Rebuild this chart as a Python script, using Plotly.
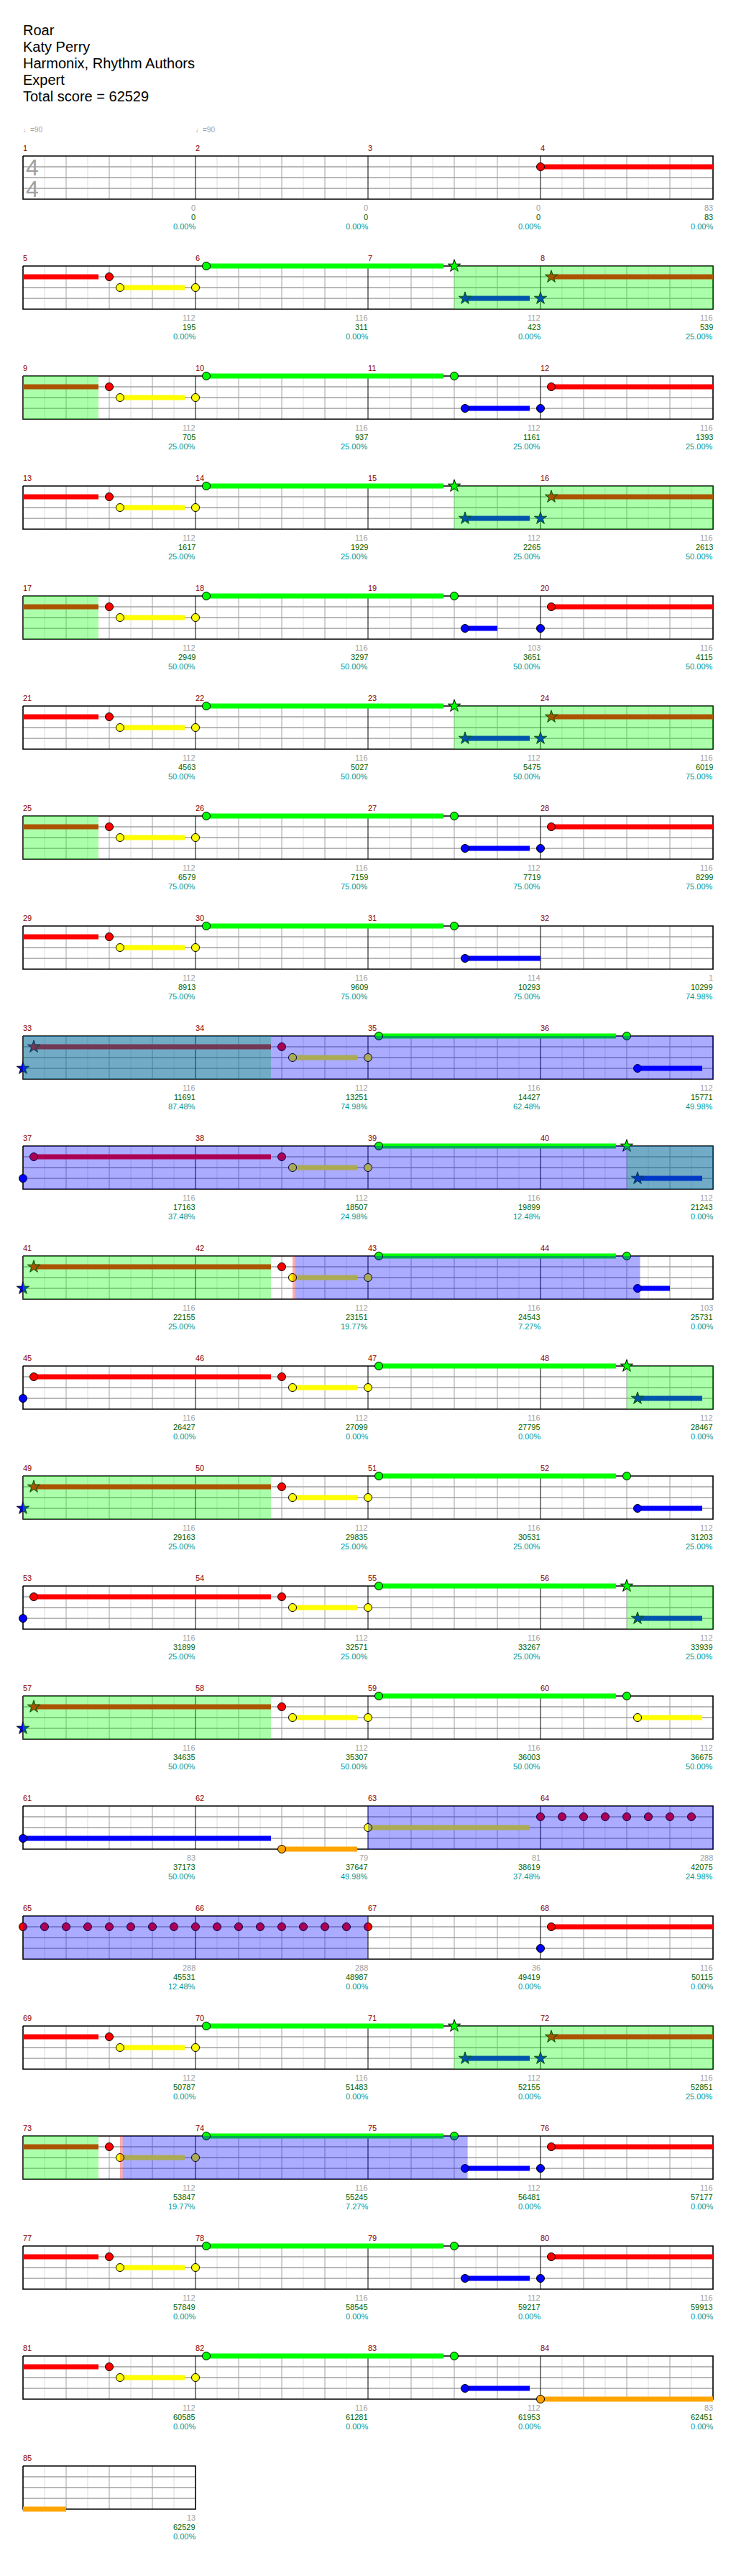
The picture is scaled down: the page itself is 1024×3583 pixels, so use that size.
import plotly.graph_objects as go

# ---------------- data ----------------
title_lines = ["Roar", "Katy Perry", "Harmonix, Rhythm Authors", "Expert", "Total score = 62529"]
tempo_measures = [1, 2]
tempo_values = [90, 90]
time_signature = ["4", "4"]
n_measures = 85

measure_notes = [0, 0, 0, 83, 112, 116, 112, 116, 112, 116, 112, 116, 112, 116, 112, 116,
                 112, 116, 103, 116, 112, 116, 112, 116, 112, 116, 112, 116, 112, 116, 114, 1,
                 116, 112, 116, 112, 116, 112, 116, 112, 116, 112, 116, 103, 116, 112, 116, 112,
                 116, 112, 116, 112, 116, 112, 116, 112, 116, 112, 116, 112, 83, 79, 81, 288,
                 288, 288, 36, 116, 112, 116, 112, 116, 112, 116, 112, 116, 112, 116, 112, 116,
                 112, 116, 112, 83, 13]
measure_scores = [0, 0, 0, 83, 195, 311, 423, 539, 705, 937, 1161, 1393, 1617, 1929, 2265, 2613,
                  2949, 3297, 3651, 4115, 4563, 5027, 5475, 6019, 6579, 7159, 7719, 8299,
                  8913, 9609, 10293, 10299, 11691, 13251, 14427, 15771, 17163, 18507, 19899, 21243,
                  22155, 23151, 24543, 25731, 26427, 27099, 27795, 28467, 29163, 29835, 30531, 31203,
                  31899, 32571, 33267, 33939, 34635, 35307, 36003, 36675, 37173, 37647, 38619, 42075,
                  45531, 48987, 49419, 50115, 50787, 51483, 52155, 52851, 53847, 55245, 56481, 57177,
                  57849, 58545, 59217, 59913, 60585, 61281, 61953, 62451, 62529]
measure_sp = [0, 0, 0, 0, 0, 0, 0, 25, 25, 25, 25, 25, 25, 25, 25, 50,
              50, 50, 50, 50, 50, 50, 50, 75, 75, 75, 75, 75, 75, 75, 75, 74.98,
              87.48, 74.98, 62.48, 49.98, 37.48, 24.98, 12.48, 0, 25, 19.77, 7.27, 0, 0, 0, 0, 0,
              25, 25, 25, 25, 25, 25, 25, 25, 50, 50, 50, 50, 50, 49.98, 37.48, 24.98,
              12.48, 0, 0, 0, 0, 0, 0, 25, 19.77, 7.27, 0, 0, 0, 0, 0, 0,
              0, 0, 0, 0, 0]

# notes: start beat (from song start), lane (0 green .. 4 orange), sustain beats, star note
note_beat = [12,
             18, 18.25, 20, 20.25, 26, 26.25, 28, 28.25,
             34, 34.25, 36, 36.25, 42, 42.25, 44, 44.25,
             50, 50.25, 52, 52.25, 58, 58.25, 60, 60.25,
             66, 66.25, 68, 68.25, 74, 74.25, 76, 76.25,
             82, 82.25, 84, 84.25, 90, 90.25, 92, 92.25,
             98, 98.25, 100, 100.25, 106, 106.25, 108, 108.25,
             114, 114.25, 116, 116.25, 122, 122.25,
             128, 128.25, 134, 134.25, 136, 136.25, 142, 142.25,
             144, 144.25, 150, 150.25, 152, 152.25, 158, 158.25,
             160, 160.25, 166, 166.25, 168, 168.25, 174, 174.25,
             176, 176.25, 182, 182.25, 184, 184.25, 190, 190.25,
             192, 192.25, 198, 198.25, 200, 200.25, 206, 206.25,
             208, 208.25, 214, 214.25, 216, 216.25, 222, 222.25,
             224, 224.25, 230, 230.25, 232, 232.25, 238, 238.25,
             240, 246, 248, 252, 252.5, 253, 253.5, 254, 254.5, 255, 255.5,
             256, 256.5, 257, 257.5, 258, 258.5, 259, 259.5, 260, 260.5, 261, 261.5,
             262, 262.5, 263, 263.5, 264, 268, 268.25,
             274, 274.25, 276, 276.25, 282, 282.25, 284, 284.25,
             290, 290.25, 292, 292.25, 298, 298.25, 300, 300.25,
             306, 306.25, 308, 308.25, 314, 314.25, 316, 316.25,
             322, 322.25, 324, 324.25, 330, 330.25, 332]
note_lane = [1,
             1, 2, 2, 0, 0, 3, 3, 1,
             1, 2, 2, 0, 0, 3, 3, 1,
             1, 2, 2, 0, 0, 3, 3, 1,
             1, 2, 2, 0, 0, 3, 3, 1,
             1, 2, 2, 0, 0, 3, 3, 1,
             1, 2, 2, 0, 0, 3, 3, 1,
             1, 2, 2, 0, 0, 3,
             3, 1, 1, 2, 2, 0, 0, 3,
             3, 1, 1, 2, 2, 0, 0, 3,
             3, 1, 1, 2, 2, 0, 0, 3,
             3, 1, 1, 2, 2, 0, 0, 3,
             3, 1, 1, 2, 2, 0, 0, 3,
             3, 1, 1, 2, 2, 0, 0, 3,
             3, 1, 1, 2, 2, 0, 0, 2,
             3, 4, 2, 1, 1, 1, 1, 1, 1, 1, 1,
             1, 1, 1, 1, 1, 1, 1, 1, 1, 1, 1, 1,
             1, 1, 1, 1, 1, 3, 1,
             1, 2, 2, 0, 0, 3, 3, 1,
             1, 2, 2, 0, 0, 3, 3, 1,
             1, 2, 2, 0, 0, 3, 3, 1,
             1, 2, 2, 0, 0, 3, 4]
note_len = [5.75,
            0, 1.5, 0, 5.5, 0, 1.5, 0, 5.5,
            0, 1.5, 0, 5.5, 0, 1.5, 0, 5.5,
            0, 1.5, 0, 5.5, 0, 1.5, 0, 5.5,
            0, 1.5, 0, 5.5, 0, 0.75, 0, 5.5,
            0, 1.5, 0, 5.5, 0, 1.5, 0, 5.5,
            0, 1.5, 0, 5.5, 0, 1.5, 0, 5.5,
            0, 1.5, 0, 5.5, 0, 1.75,
            0, 5.5, 0, 1.5, 0, 5.5, 0, 1.5,
            0, 5.5, 0, 1.5, 0, 5.5, 0, 1.5,
            0, 5.5, 0, 1.5, 0, 5.5, 0, 0.75,
            0, 5.5, 0, 1.5, 0, 5.5, 0, 1.5,
            0, 5.5, 0, 1.5, 0, 5.5, 0, 1.5,
            0, 5.5, 0, 1.5, 0, 5.5, 0, 1.5,
            0, 5.5, 0, 1.5, 0, 5.5, 0, 1.5,
            5.75, 1.75, 3.75, 0, 0, 0, 0, 0, 0, 0, 0,
            0, 0, 0, 0, 0, 0, 0, 0, 0, 0, 0, 0,
            0, 0, 0, 0, 0, 0, 5.5,
            0, 1.5, 0, 5.5, 0, 1.5, 0, 5.5,
            0, 1.5, 0, 5.5, 0, 1.5, 0, 5.5,
            0, 1.5, 0, 5.5, 0, 1.5, 0, 5.5,
            0, 1.5, 0, 5.5, 0, 1.5, 5.0]
note_star = [0,
             0, 0, 0, 0, 1, 1, 1, 1,
             0, 0, 0, 0, 0, 0, 0, 0,
             0, 0, 0, 0, 1, 1, 1, 1,
             0, 0, 0, 0, 0, 0, 0, 0,
             0, 0, 0, 0, 1, 1, 1, 1,
             0, 0, 0, 0, 0, 0, 0, 0,
             0, 0, 0, 0, 0, 0,
             1, 1, 0, 0, 0, 0, 0, 0,
             0, 0, 0, 0, 0, 0, 1, 1,
             1, 1, 0, 0, 0, 0, 0, 0,
             0, 0, 0, 0, 0, 0, 1, 1,
             1, 1, 0, 0, 0, 0, 0, 0,
             0, 0, 0, 0, 0, 0, 1, 1,
             1, 1, 0, 0, 0, 0, 0, 0,
             0, 0, 0, 0, 0, 0, 0, 0, 0, 0, 0,
             0, 0, 0, 0, 0, 0, 0, 0, 0, 0, 0, 0,
             0, 0, 0, 0, 0, 0, 0,
             0, 0, 0, 0, 1, 1, 1, 1,
             0, 0, 0, 0, 0, 0, 0, 0,
             0, 0, 0, 0, 0, 0, 0, 0,
             0, 0, 0, 0, 0, 0, 0]

# star power phrases and activations (beats from song start)
sp_start = [26, 58, 90, 128, 158, 190, 222, 282]
sp_end = [33.75, 65.75, 97.75, 133.75, 165.75, 197.75, 229.75, 289.75]
act_start = [128, 166.31, 248, 290.31]
act_end = [160, 174.31, 264, 298.31]
act_lag_start = [166.25, 290.25]
act_lag_end = [166.31, 290.31]

# ---------------- layout constants ----------------
W, H = 1024, 3583
LEFT = 32
BEAT_PX = 60.0
ROW_TOP0 = 217
ROW_H = 153
LANE_PX = 15
BPR = 16  # beats per row
total_beats = n_measures * 4
n_rows = (total_beats + BPR - 1) // BPR
lane_colors = ["#00FF00", "#FF0000", "#FFFF00", "#0000FF", "#FFA500"]
FONT = "Liberation Sans, Arial, sans-serif"


def row_top(r):
    return ROW_TOP0 + ROW_H * r


def row_beats(r):
    return min(BPR, total_beats - BPR * r)


def segments(b0, b1):
    out = []
    r = int(b0 // BPR)
    while b0 < b1 - 1e-9:
        e = min(b1, (r + 1) * BPR)
        out.append((r, b0 - BPR * r, e - BPR * r))
        b0 = e
        r += 1
    return out


fig = go.Figure()


def add_lines(xs, ys, color, width):
    fig.add_trace(go.Scatter(x=xs, y=ys, mode="lines", line=dict(color=color, width=width),
                             hoverinfo="skip", showlegend=False))


# grid
half_x, half_y, beat_x, beat_y, meas_x, meas_y, lane_x, lane_y, bord_x, bord_y = ([] for _ in range(10))
for r in range(n_rows):
    nb = row_beats(r)
    t = row_top(r)
    b = t + 4 * LANE_PX
    for k in range(1, 2 * nb):
        xv = k / 2.0
        if k % 2 == 1:
            half_x += [xv, xv, None]; half_y += [t, b, None]
        elif (k // 2) % 4 != 0:
            beat_x += [xv, xv, None]; beat_y += [t, b, None]
        else:
            meas_x += [xv, xv, None]; meas_y += [t, b, None]
    for ln in (1, 2, 3):
        lane_x += [0, nb, None]; lane_y += [t + ln * LANE_PX] * 2 + [None]
    bord_x += [0, nb, nb, 0, 0, None]
    bord_y += [t, t, b, b, t, None]

add_lines(half_x, half_y, "#DCDCDC", 1)
add_lines(beat_x, beat_y, "#A0A0A0", 1)
add_lines(lane_x, lane_y, "#A0A0A0", 1.5)
add_lines(meas_x, meas_y, "#000000", 1)
add_lines(bord_x, bord_y, "#000000", 1.6)

# sustains
for lane in range(5):
    sx, sy = [], []
    for bt, ln, L in zip(note_beat, note_lane, note_len):
        if ln != lane or L <= 0:
            continue
        for r, x0, x1 in segments(bt, bt + L):
            yv = row_top(r) + ln * LANE_PX
            sx += [x0, x1, None]; sy += [yv, yv, None]
    if sx:
        add_lines(sx, sy, lane_colors[lane], 7)

# note heads
for lane in range(5):
    for star in (0, 1):
        nx, ny = [], []
        for bt, ln, st in zip(note_beat, note_lane, note_star):
            if ln == lane and st == star:
                r = int(bt // BPR)
                nx.append(bt - BPR * r)
                ny.append(row_top(r) + ln * LANE_PX)
        if nx:
            fig.add_trace(go.Scatter(
                x=nx, y=ny, mode="markers", hoverinfo="skip", showlegend=False,
                marker=dict(symbol="star" if star else "circle", size=13 if star else 11,
                            color=lane_colors[lane], line=dict(color="#000000", width=1))))

# overlays
shapes = []


def add_region(b0, b1, color):
    for r, x0, x1 in segments(b0, b1):
        t = row_top(r)
        shapes.append(dict(type="rect", xref="x", yref="y", x0=x0, x1=x1, y0=t, y1=t + 4 * LANE_PX,
                           fillcolor=color, line=dict(width=0), layer="above"))


for s, e in zip(sp_start, sp_end):
    add_region(s, e, "rgba(0,255,0,0.33)")
for s, e in zip(act_start, act_end):
    add_region(s, e, "rgba(0,0,255,0.33)")
for s, e in zip(act_lag_start, act_lag_end):
    add_region(s, e, "rgba(255,0,0,0.33)")

# text
ann = []


def text(x, y, s, size, color, xanchor="left", xref="x"):
    ann.append(dict(x=x, y=y, xref=xref, yref="y", text=s, showarrow=False, xanchor=xanchor,
                    yanchor="middle", borderpad=0, borderwidth=0,
                    font=dict(family=FONT, size=size, color=color)))


for i, line in enumerate(title_lines):
    text(0, 42 + 23 * i, line, 20, "#000000")

for m, tv in zip(tempo_measures, tempo_values):
    gb = (m - 1) * 4
    r = gb // BPR
    text(gb - BPR * r, row_top(r) - 37, "\u2669=" + str(tv), 10, "#A0A0A0")

text(0.22, row_top(0) + 16, time_signature[0], 32, "#A0A0A0", xanchor="center")
text(0.22, row_top(0) + 46, time_signature[1], 32, "#A0A0A0", xanchor="center")

for m in range(n_measures):
    gb = m * 4
    r = gb // BPR
    xs = gb - BPR * r
    t = row_top(r)
    b = t + 4 * LANE_PX
    text(xs, t - 11, str(m + 1), 11, "#8B0000")
    xe = xs + 4
    text(xe, b + 12, str(measure_notes[m]), 11, "#A0A0A0", xanchor="right")
    text(xe, b + 25, str(measure_scores[m]), 11, "#006400", xanchor="right")
    text(xe, b + 38, "%.2f%%" % measure_sp[m], 11, "#009999", xanchor="right")

fig.update_layout(
    width=W, height=H, margin=dict(l=0, r=0, t=0, b=0),
    paper_bgcolor="white", plot_bgcolor="white", showlegend=False,
    xaxis=dict(range=[-LEFT / BEAT_PX, (W - LEFT) / BEAT_PX], visible=False, fixedrange=True),
    yaxis=dict(range=[H, 0], visible=False, fixedrange=True),
    shapes=shapes, annotations=ann,
)
fig.write_html("out.html", config={"displayModeBar": False, "staticPlot": True},
               post_script="document.body.style.margin='0';document.body.style.overflow='hidden';")
